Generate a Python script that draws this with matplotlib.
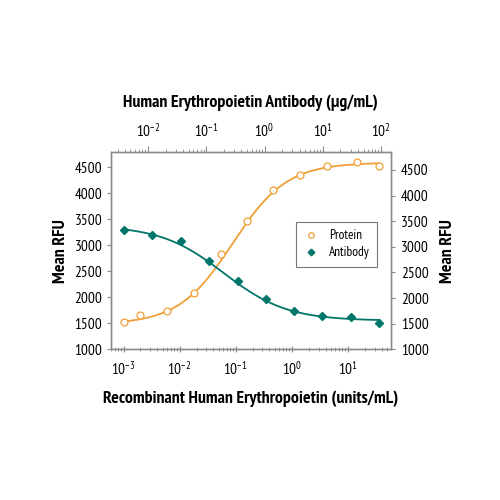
import numpy as np
import matplotlib
matplotlib.use("Agg")
import matplotlib.pyplot as plt
from matplotlib.ticker import LogLocator, NullFormatter, FixedLocator

FONT = ['PT Sans Narrow', 'DejaVu Sans']
plt.rcParams['font.family'] = FONT
plt.rcParams['mathtext.fontset'] = 'custom'
plt.rcParams['mathtext.rm'] = 'PT Sans Narrow'
plt.rcParams['mathtext.it'] = 'PT Sans Narrow'
plt.rcParams['mathtext.default'] = 'regular'

# Protein (units/mL, bottom axis)
protein_x = [0.001, 0.002, 0.0059, 0.018, 0.054, 0.158, 0.457, 1.38, 4.17, 14.5, 35.5]
protein_y = [1525, 1667, 1737, 2083, 2833, 3468, 4058, 4346, 4519, 4609, 4532]
# Antibody (ug/mL, top axis)
antibody_x = [0.0038, 0.0115, 0.0363, 0.112, 0.347, 1.07, 3.24, 9.77, 30.2, 93.3]
antibody_y = [3295, 3199, 3083, 2705, 2308, 1962, 1744, 1647, 1628, 1500]

# 4PL fit parameters (bottom, top, EC50, hill)
protein_fit = (1480, 4590, 0.088, 0.9)
antibody_fit = (1550, 3380, 0.2, 0.8)

ORANGE = '#EFA035'
TEAL = '#00766A'
GRAY = '#8a8a8a'

def fourpl(x, p, rising=True):
    b, t, ec, h = p
    r = (x / ec) ** h
    if rising:
        return b + (t - b) * r / (1 + r)
    return b + (t - b) / (1 + r)

fig = plt.figure(figsize=(5, 5), dpi=100)
ax = fig.add_axes([0.2214, 0.3014, 0.5606, 0.394])

ax.set_xscale('log')
ax.set_xlim(10**-3.23, 10**1.77)
ax.set_ylim(1000, 4788)

xs = np.logspace(np.log10(protein_x[0]), np.log10(protein_x[-1]), 300)
ax.plot(xs, fourpl(xs, protein_fit, True), color=ORANGE, lw=1.3, zorder=2)
hp, = ax.plot(protein_x, protein_y, 'o', mfc='white', mec=ORANGE, ms=5, mew=0.9,
              linestyle='none', zorder=3, label='Protein')

axt = ax.twiny()
axt.set_xscale('log')
axt.set_xlim(10**-2.64, 10**2.17)
xa = np.logspace(np.log10(antibody_x[0]), np.log10(antibody_x[-1]), 300)
axt.plot(xa, fourpl(xa, antibody_fit, False), color=TEAL, lw=1.3, zorder=2)
ha, = axt.plot(antibody_x, antibody_y, 'D', color=TEAL, ms=4.2, linestyle='none',
               zorder=3, label='Antibody')

axr = ax.twinx()
axr.set_ylim(1000, 4845)

yticks = [1000, 1500, 2000, 2500, 3000, 3500, 4000, 4500]
for a in (ax, axr, axt):
    for s in a.spines.values():
        s.set_color(GRAY)
        s.set_linewidth(0.9)

TS = 11
ax.set_yticks(yticks)
axr.set_yticks(yticks)
ax.tick_params(axis='y', direction='out', length=3, width=0.8, color=GRAY,
               labelsize=TS, pad=3)
axr.tick_params(axis='y', direction='out', length=3, width=0.8, color=GRAY,
                labelsize=TS, pad=4)

ax.xaxis.set_major_locator(FixedLocator([1e-3, 1e-2, 1e-1, 1e0, 1e1]))
ax.xaxis.set_minor_locator(LogLocator(base=10, subs=np.arange(2, 10)))
ax.xaxis.set_minor_formatter(NullFormatter())
ax.set_xticklabels([r'$10^{-3}$', r'$10^{-2}$', r'$10^{-1}$', r'$10^{0}$', r'$10^{1}$'])
ax.tick_params(axis='x', which='major', direction='inout', length=5, width=0.8,
               color=GRAY, labelsize=TS, pad=5)
ax.tick_params(axis='x', which='minor', direction='inout', length=2.5, width=0.6,
               color=GRAY)

axt.xaxis.set_major_locator(FixedLocator([1e-2, 1e-1, 1e0, 1e1, 1e2]))
axt.xaxis.set_minor_locator(LogLocator(base=10, subs=np.arange(2, 10)))
axt.xaxis.set_minor_formatter(NullFormatter())
axt.set_xticklabels([r'$10^{-2}$', r'$10^{-1}$', r'$10^{0}$', r'$10^{1}$', r'$10^{2}$'])
axt.tick_params(axis='x', which='major', direction='out', length=4, width=0.8,
                color=GRAY, labelsize=TS, pad=5)
axt.tick_params(axis='x', which='minor', direction='out', length=2, width=0.6,
                color=GRAY)

lab = dict(fontsize=12.8, fontweight='bold', family=FONT)
ax.set_xlabel('Recombinant Human Erythropoietin (units/mL)', labelpad=9, **lab)
axt.set_xlabel('Human Erythropoietin Antibody (\u03bcg/mL)', labelpad=11, **lab)
ax.set_ylabel('Mean RFU', labelpad=4, **lab)
axr.set_ylabel('Mean RFU', labelpad=8, rotation=90, **lab)

leg = axr.legend([hp, ha], ['Protein', 'Antibody'], loc='upper left',
                 bbox_to_anchor=(0.661, 0.646), borderaxespad=0,
                 fontsize=9.5, frameon=True, fancybox=False, borderpad=0.55,
                 handletextpad=0.75, labelspacing=0.3, handlelength=1.2,
                 markerscale=0.8)
leg.get_frame().set_edgecolor('#555555')
leg.get_frame().set_linewidth(0.8)

fig.savefig('out.png', dpi=100)
